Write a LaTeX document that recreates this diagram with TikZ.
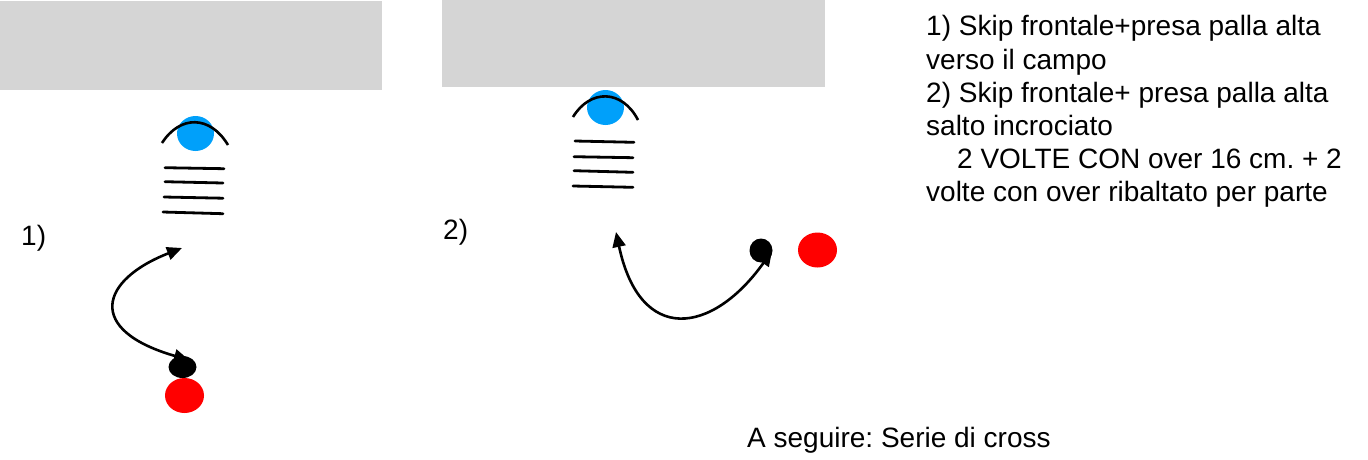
\documentclass[tikz,border=0pt]{standalone}
\usepackage{fontspec}
\setmainfont{Liberation Sans}
\usetikzlibrary{shapes.geometric,arrows.meta}
\definecolor{padgray}{RGB}{213,213,213}
\definecolor{ballblue}{RGB}{0,160,250}
\definecolor{ballred}{RGB}{255,0,0}
\tikzset{
  pad/.style={fill=padgray,draw=none},
  ball/.style={ellipse,inner sep=0pt,draw=none},
  bluball/.style={ball,fill=ballblue,minimum width=37pt,minimum height=35pt},
  redball/.style={ball,fill=ballred,minimum width=39pt,minimum height=35pt},
  blkball/.style={ball,fill=black},
  rung/.style={line width=2.8pt,line cap=round},
  hurdlearc/.style={line width=2.6pt},
  runarrow/.style={line width=2.6pt,{Triangle[length=15pt,width=13pt]}-{Triangle[length=15pt,width=13pt]}},
  lbl/.style={inner sep=0pt,anchor=base west,font=\fontsize{28}{33.2}\selectfont}
}
\frenchspacing
\begin{document}
\begin{tikzpicture}[x=1pt,y=-1pt]
\useasboundingbox (0,0) rectangle (1368,459);
% pads
\fill[pad] (0,1) rectangle (382,90);
\fill[pad] (442,0) rectangle (825,87);

% ---------- diagram 1 ----------
\node[bluball] (blue1) at (195.5,133.5) {};
\draw[hurdlearc] (162,143) .. controls (180,115) and (210,115) .. (228,145);
\draw[rung] (165,167.7) -- (224,168.7);
\draw[rung] (165,181.7) -- (223,183);
\draw[rung] (164,197) -- (223,198.2);
\draw[rung] (163,212) -- (223,213.7);
\coordinate (s1) at (189,360);
\coordinate (e1) at (182,248);
\draw[runarrow] (s1) .. controls (85,330) and (100,280) .. (e1);
\node[blkball,minimum width=28pt,minimum height=22pt] (blk1) at (182.5,367) {};
\node[redball] (red1) at (184.5,395.5) {};
\node[lbl] (l1) at (21,245) {1)};

% ---------- diagram 2 ----------
\node[bluball] (blue2) at (605.5,107.5) {};
\draw[hurdlearc] (573,117) .. controls (590,89) and (622,89) .. (638,120);
\draw[rung] (575,141) -- (634,142.3);
\draw[rung] (574,156.7) -- (633,157.7);
\draw[rung] (574,170.7) -- (633,172.3);
\draw[rung] (573,186) -- (633,187.3);
\coordinate (s2) at (616,232);
\coordinate (e2) at (772,251);
\draw[runarrow] (s2) .. controls (640,345) and (712,335) .. (e2);
\node[blkball,minimum width=23pt,minimum height=24pt] (blk2) at (761,250.5) {};
\node[redball] (red2) at (817.5,250) {};
\node[lbl] (l2) at (443,239.5) {2)};

% ---------- texts ----------
\node[lbl] (t1) at (926,35.8) {1) Skip frontale+presa palla alta};
\node[lbl] (t2) at (926,69) {verso il campo};
\node[lbl] (t3) at (926,102.2) {2) Skip frontale+ presa palla alta};
\node[lbl] (t4) at (926,135.4) {salto incrociato};
\node[lbl] (t5) at (957,168.6) {2 VOLTE CON over 16 cm. + 2};
\node[lbl] (t6) at (926,201.8) {volte con over ribaltato per parte};
\node[lbl] (t7) at (747,447.5) {A seguire: Serie di cross};
\end{tikzpicture}
\end{document}
